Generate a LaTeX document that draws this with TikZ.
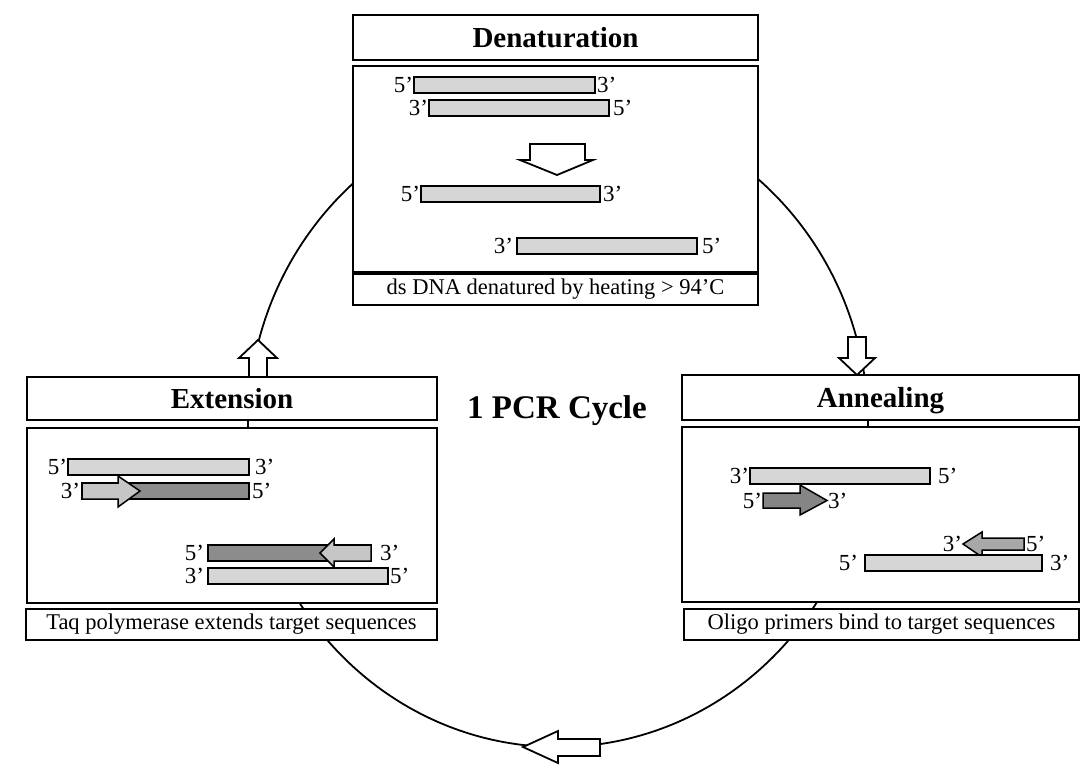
\documentclass[tikz,border=0pt]{standalone}
\usepackage{fontspec}
\setmainfont{Liberation Serif}
\definecolor{dnalight}{HTML}{D6D6D6}
\definecolor{dnadark}{HTML}{8C8C8C}
\definecolor{primerpale}{HTML}{C6C6C6}
\definecolor{primerdeep}{HTML}{858585}
\definecolor{primermid}{HTML}{A8A8A8}
% #1 name, #2 x1, #3 x2, #4 ytop, #5 fill style, #6 left label, #7 right label, #8 left gap, #9 right gap
\newcommand\dnastrand[9]{%
  \pgfmathsetmacro\dnaW{#3-#2}%
  \node[strandbox,#5,minimum width=\dnaW pt,anchor=north west] (#1) at (#2,#4) {};
  \node[endlabel,anchor=east,xshift=-#8pt] (#1-l) at (#1.west) {#6};
  \node[endlabel,anchor=west,xshift=#9pt] (#1-r) at (#1.east) {#7};
}
\begin{document}
\begin{tikzpicture}[x=1pt,y=-1pt,
  box/.style={draw,line width=1.9pt,fill=white,inner sep=0pt,outer sep=0pt},
  titlebox/.style={box,text depth=0pt,font=\fontsize{29}{31}\selectfont\bfseries},
  capbox/.style={box,font=\fontsize{22.5}{24}\selectfont},
  strandbox/.style={draw,line width=1.7pt,inner sep=0pt,outer sep=0pt,minimum height=16pt},
  lightdna/.style={fill=dnalight},
  darkdna/.style={fill=dnadark},
  primer/.style={draw,line width=1.5pt,line join=miter},
  endlabel/.style={inner sep=0pt,outer sep=0pt,font=\fontsize{23}{23}\selectfont},
  hollow/.style={draw,line width=1.8pt,fill=white,line join=miter},
  cyc/.style={line width=1.8pt},
  bigtitle/.style={inner sep=0pt,font=\fontsize{33}{35}\selectfont\bfseries}
]
\useasboundingbox[fill=white] (0,0) rectangle (1082,774);

% the cycle line (behind the boxes)
\coordinate (cc) at (558,425);
\draw[cyc] (cc) ellipse[x radius=310pt, y radius=322pt];

% ---------------- Denaturation ----------------
\node[titlebox,minimum width=405pt,minimum height=45pt] (dtitle) at (555.5,37.5) {Denaturation};
\node[box,minimum width=405pt,minimum height=207pt] (dmain) at (555.5,169.5) {};
\node[capbox,minimum width=405pt,minimum height=32pt] (dtext) at (555.5,289) {ds DNA denatured by heating > 94'C};
\draw[line width=4.5pt] (dmain.south west) -- (dmain.south east);

\dnastrand{d1}{414}{595}{77}{lightdna}{5'}{3'}{1}{2}
\dnastrand{d2}{429}{609}{100}{lightdna}{3'}{5'}{1}{4}
\coordinate (dtip) at (557,175);
\draw[hollow] (dtip) -- ++(36,-15) -- ++(-8,0) -- ++(0,-16) -- ++(-55,0) -- ++(0,16) -- ++(-10,0) -- cycle;
\dnastrand{d3}{421}{600}{186}{lightdna}{5'}{3'}{1}{3}
\dnastrand{d4}{517}{697}{238}{lightdna}{3'}{5'}{4}{5}

% ---------------- Extension ----------------
\node[titlebox,minimum width=410pt,minimum height=43pt] (etitle) at (232,398.5) {Extension};
\node[box,minimum width=410pt,minimum height=175pt] (emain) at (232,515.5) {};
\node[capbox,minimum width=411pt,minimum height=31pt] (etext) at (231.5,624.5) {Taq polymerase extends target sequences};

\dnastrand{e1}{68}{249}{459}{lightdna}{5'}{3'}{1}{6}
\dnastrand{e2}{82}{249}{483}{darkdna}{3'}{5'}{2}{3}
\draw[primer,fill=primerpale] (e2.north west) -- ++(36,0) -- ++(0,-7) -- ++(22,15) -- ++(-22,16) -- ++(0,-8) -- (e2.south west) -- cycle;
\dnastrand{e3}{208}{371}{545}{darkdna}{5'}{3'}{4}{9}
\dnastrand{e4}{208}{388}{568}{lightdna}{3'}{5'}{4}{2}
\draw[primer,fill=primerpale] (e3.north east) -- ++(-37,0) -- ++(0,-6) -- ++(-14,14) -- ++(14,14) -- ++(0,-6) -- (e3.south east) -- cycle;

% ---------------- Annealing ----------------
\node[titlebox,minimum width=397pt,minimum height=45pt] (atitle) at (880.5,397.5) {Annealing};
\node[box,minimum width=397pt,minimum height=175pt] (amain) at (880.5,514.5) {};
\node[capbox,minimum width=395pt,minimum height=31pt] (atext) at (881.5,624.5) {Oligo primers bind to target sequences};

\dnastrand{a1}{750}{930}{468}{lightdna}{3'}{5'}{1}{8}
\coordinate (a2tail) at (763,493);
\draw[primer,fill=primerdeep] (a2tail) -- ++(37,0) -- ++(0,-8) -- ++(27,15.5) -- ++(-27,14.5) -- ++(0,-7) -- ++(-37,0) -- cycle;
\node[endlabel,anchor=east,xshift=-1pt] (a2-l) at (763,500.5) {5'};
\node[endlabel,anchor=west,xshift=1pt] (a2-r) at (827,500.5) {3'};
\coordinate (a3tip) at (963,544);
\draw[primer,fill=primermid] (a3tip) -- ++(19,-12) -- ++(0,6) -- ++(42,0) -- ++(0,12) -- ++(-42,0) -- ++(0,7) -- cycle;
\node[endlabel,anchor=east,xshift=-1pt] (a3-l) at (963,544) {3'};
\node[endlabel,anchor=west,xshift=2pt] (a3-r) at (1024,544) {5'};
\dnastrand{a4}{865}{1042}{555}{lightdna}{5'}{3'}{7}{8}

% ---------------- centre title ----------------
\node[bigtitle] (cyctitle) at (557,411) {1 PCR Cycle};

% ---------------- hollow arrows on the cycle ----------------
\coordinate (uptip) at (258,340);
\draw[hollow] (uptip) -- ++(19,18) -- ++(-10,0) -- (etitle.north -| 267,0) -- (etitle.north -| 249,0) -- ++(0,-19) -- ++(-10,0) -- cycle;
\coordinate (dntip) at (857,375);
\draw[hollow] (dntip) -- ++(18,-17) -- ++(-9,0) -- ++(0,-21) -- ++(-18,0) -- ++(0,21) -- ++(-9,0) -- cycle;
\coordinate (lftip) at (523,747);
\draw[hollow] (lftip) -- ++(35,-16) -- ++(0,8) -- ++(42,0) -- ++(0,17) -- ++(-42,0) -- ++(0,7) -- cycle;
\end{tikzpicture}
\end{document}
